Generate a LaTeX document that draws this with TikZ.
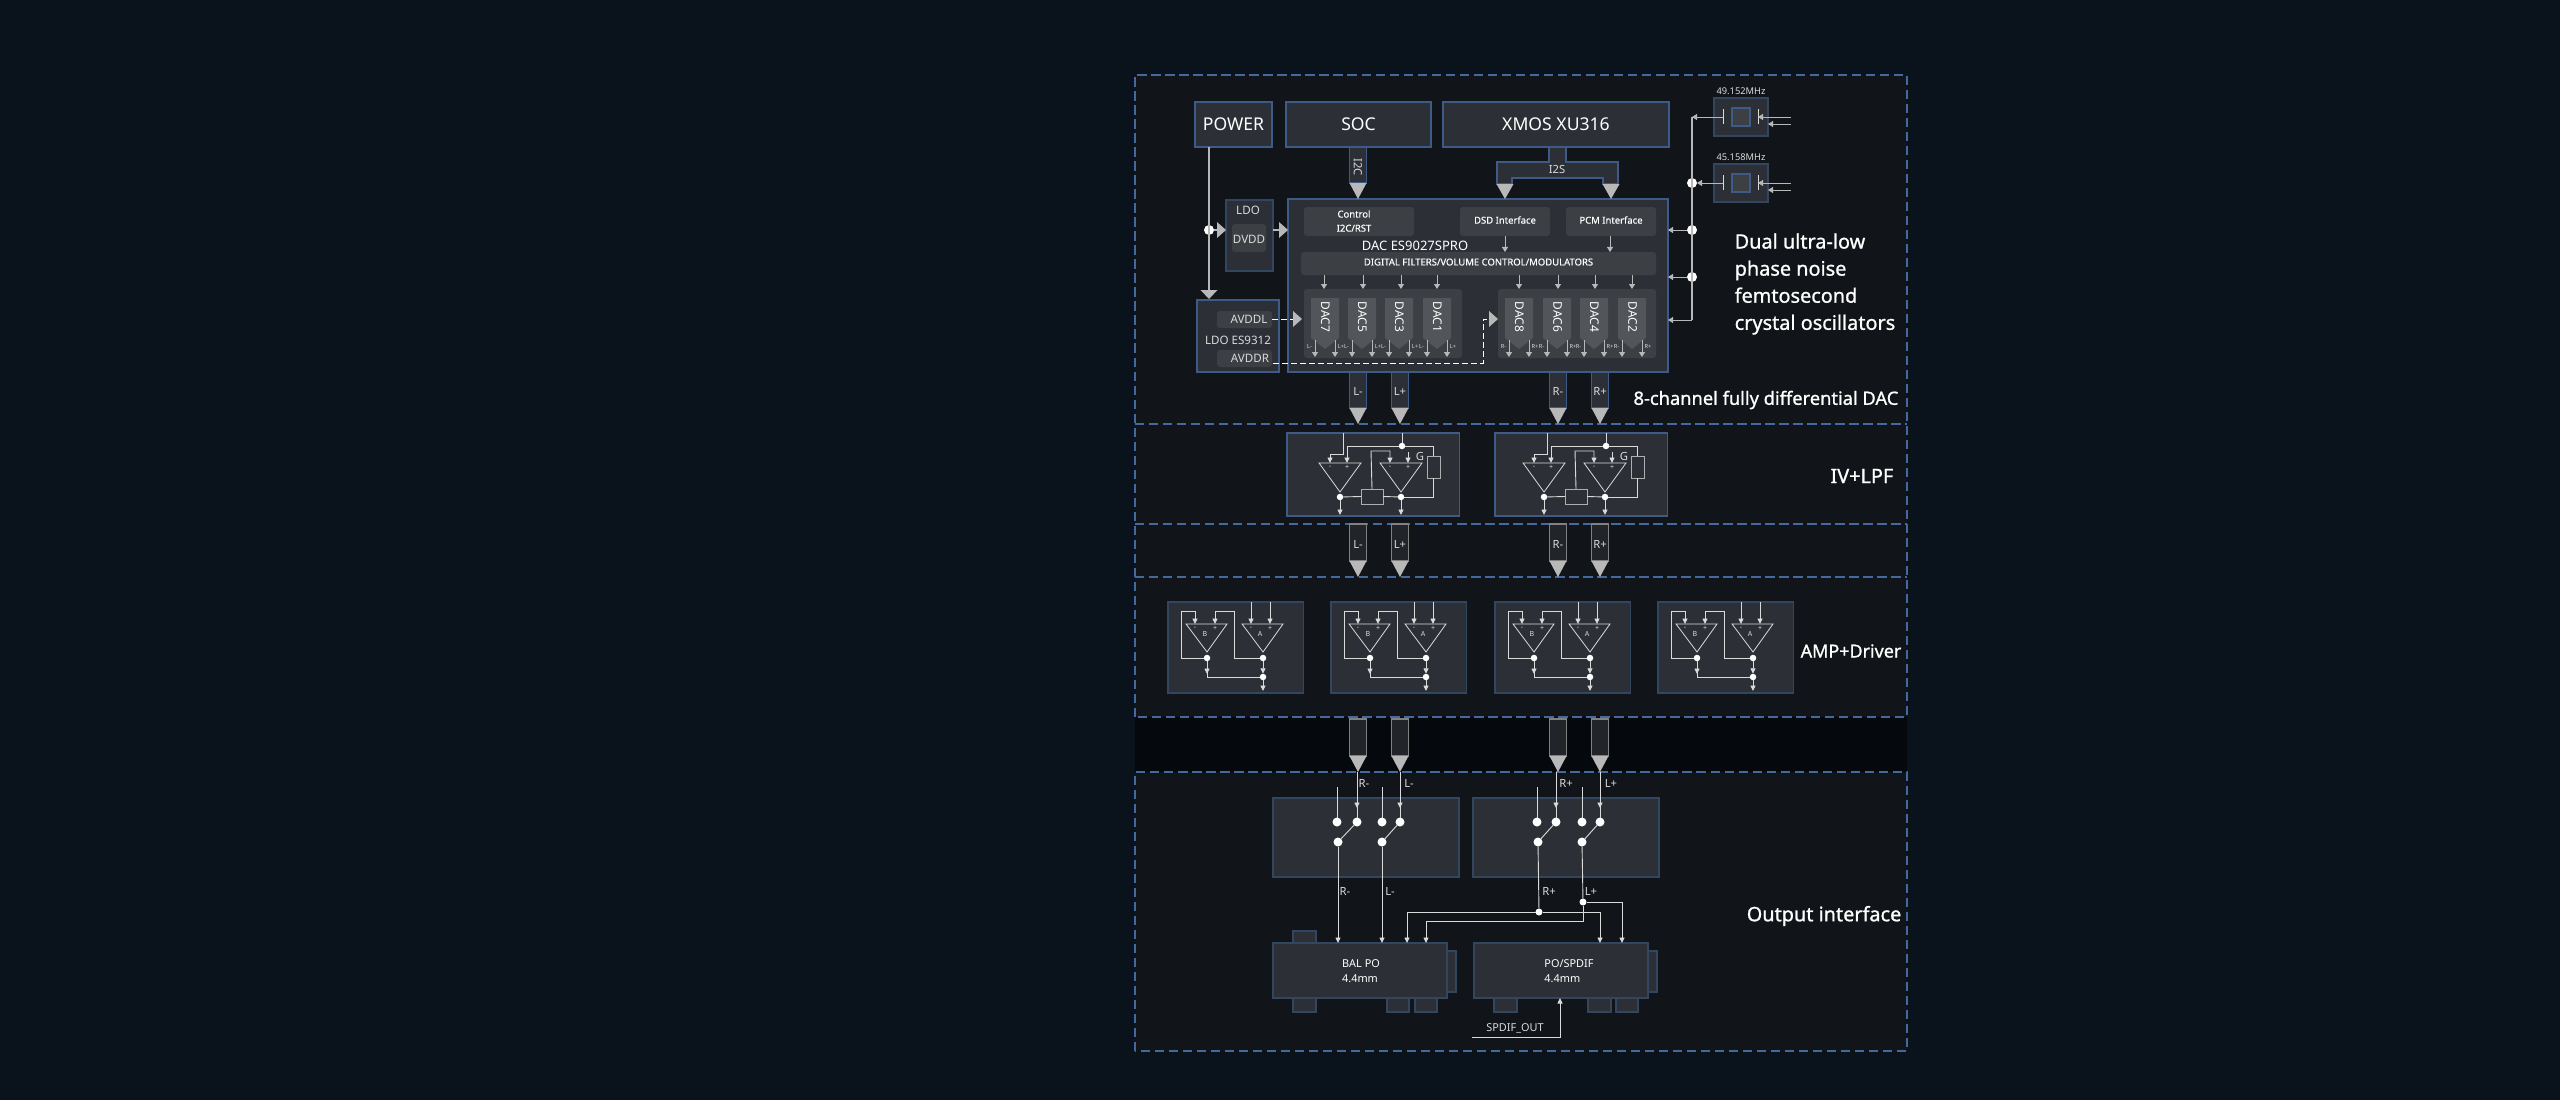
\documentclass[tikz,border=0pt]{standalone}
\usepackage{fontspec}
\setmainfont{Noto Sans}
\setsansfont{Noto Sans}
\newfontfamily\headfont[FakeBold=1]{Noto Sans}
\newfontfamily\pillfont[FakeBold=0.3]{Noto Sans}
\usetikzlibrary{arrows.meta,calc}
\definecolor{Page}{HTML}{0A131C}
\definecolor{Panel}{HTML}{111418}
\definecolor{Band}{HTML}{05080D}
\definecolor{Block}{HTML}{2C2F35}
\definecolor{Pill}{HTML}{3C3F44}
\definecolor{Penta}{HTML}{525559}
\definecolor{Edge}{HTML}{3E5A86}
\definecolor{EdgeDim}{HTML}{33465F}
\definecolor{Dash}{HTML}{44699F}
\definecolor{Tip}{HTML}{B8B8B8}
\definecolor{Wire}{HTML}{DADADA}
\tikzset{
  blkbox/.style={draw=Edge,fill=Block,line width=.012cm,inner sep=0,outer sep=0,text=white,font=\fontsize{5}{6}\selectfont},
  dimbox/.style={blkbox,draw=EdgeDim},
  tab/.style={blkbox,draw=EdgeDim},
  pillbox/.style={fill=Pill,rounded corners=.03cm,inner sep=0,outer sep=0,text=white,text depth=.03cm,font=\pillfont\fontsize{2.7}{4}\selectfont},
  lbl/.style={text=Wire,inner sep=0,font=\fontsize{3.2}{3.8}\selectfont},
  lblmid/.style={text=Wire,inner sep=0,font=\fontsize{3.3}{4}\selectfont},
  lbltiny/.style={text=Wire,inner sep=0,font=\fontsize{1.6}{2}\selectfont},
  lblamp/.style={text=Wire,inner sep=0,font=\fontsize{2}{2.4}\selectfont},
  lblbig/.style={text=white,inner sep=0,align=left,font=\headfont\fontsize{5.65}{7.7}\selectfont},
  dashline/.style={Dash,line width=.016cm,dash pattern=on .093cm off .047cm},
  bus/.style={draw=Edge,fill=Block,line width=.012cm},
  busgrey/.style={draw=Tip!70!black,fill=Block!60!Panel,line width=.012cm},
  wire/.style={Wire,line width=.009cm},
  wirearr/.style={wire,-{Triangle[length=.055cm,width=.05cm]}},
  garr/.style={Tip,line width=.009cm,-{Triangle[length=.05cm,width=.06cm]}},
  dashwire/.style={white,line width=.01cm,dash pattern=on .06cm off .03cm},
  wdot/.style={circle,fill=white,inner sep=0,outer sep=0,minimum size=.1cm},
  mdot/.style={wdot,minimum size=.09cm},
  sdot/.style={wdot,minimum size=.065cm},
  opamp/.style={Wire,line width=.008cm,line join=miter},
  res/.style={draw=Wire!80!black,line width=.009cm,inner sep=0,outer sep=0},
}
% corners in pixels of the reference
\newcommand{\blk}[7][blkbox]{\node[#1,minimum width={((#5)-(#3))*.01cm},minimum height={((#6)-(#4))*.01cm}] (#2) at ({((#3)+(#5))/2},{((#4)+(#6))/2}) {#7};}
\newcommand{\busarrow}[4][bus]{%
  \draw[#1] ($(#2)+(-8.5,0)$) rectangle ($(#3)+(8.5,-16)$);
  \fill[Tip] ($(#3)+(-8.5,-16)$) -- ($(#3)+(8.5,-16)$) -- (#3) -- cycle;
  \node[lbl] at ($(#2)!.38!(#3)$) {#4};}
\newcommand{\sidetip}[1]{\fill[Tip] ($(#1)+(0,-8)$) -- ($(#1)+(0,8)$) -- ($(#1)+(9,0)$) -- cycle;}
\begin{document}
\begin{tikzpicture}[x=.01cm,y=-.01cm]
\useasboundingbox (0,0) rectangle (2560,1100);
\fill[Page] (0,0) rectangle (2560,1100);
\fill[Panel] (1135,75) rectangle (1907,717);
\fill[Band] (1135,717) rectangle (1907,772);
\fill[Panel] (1135,772) rectangle (1907,1051);
% section frames
\draw[dashline] (1135,717) -- (1135,75) -- (1907,75) -- (1907,717) -- cycle;
\draw[dashline] (1135,424) -- (1907,424);
\draw[dashline] (1135,524) -- (1907,524);
\draw[dashline] (1135,577) -- (1907,577);
\draw[dashline] (1135,1051) -- (1135,772) -- (1907,772) -- (1907,1051) -- cycle;
\node[lblbig,anchor=west] (txtdual) at (1734,284) {Dual ultra-low\\phase noise\\femtosecond\\crystal oscillators};
\node[lblbig,anchor=east,font=\headfont\fontsize{5.2}{6}\selectfont] (txtdac) at (1899,400) {8-channel fully differential DAC};
\node[lblbig,anchor=east] (txtiv) at (1894,476) {IV+LPF};
\node[lblbig,anchor=east,font=\headfont\fontsize{5.1}{6}\selectfont] (txtamp) at (1902,651) {AMP+Driver};
\node[lblbig,anchor=east] (txtout) at (1902,916) {Output interface};
% top row
\blk{power}{1195}{102}{1272}{147}{POWER}
\blk{soc}{1286}{102}{1431}{147}{SOC}
\blk{xmos}{1443}{102}{1669}{147}{XMOS XU316}
\blk{dac}{1288}{199}{1668}{372}{}
\node[text=white,inner sep=0,font=\fontsize{3.7}{4.4}\selectfont] (dacname) at (1415,246) {DAC ES9027SPRO};
\coordinate (soctap) at (1358,147); \coordinate (soctip) at (1358,199);
\busarrow{soctap}{soctip}{}
\node[lbl,rotate=-90] (i2c) at (1358,167) {I2C};
\draw[bus] (1549,147) -- (1549,162) -- (1497,162) -- (1497,184) -- (1512,184) -- (1512,178) -- (1603,178) -- (1603,184) -- (1618,184) -- (1618,162) -- (1566,162) -- (1566,147) -- cycle;
\node[lbl] (i2s) at (1557,169) {I2S};
\foreach \x in {1505,1611}{\fill[Tip] ({\x-8.5},184) -- ({\x+8.5},184) -- (\x,199) -- cycle;}
% DAC insides
\blk[pillbox]{ctrl}{1304}{207}{1414}{236}{}
\node[lbl,text=white,align=center,font=\pillfont\fontsize{2.7}{4}\selectfont] (ctrltxt) at (1354,221) {Control\\I2C/RST};
\blk[pillbox]{dsd}{1460}{207}{1550}{236}{DSD Interface}
\blk[pillbox]{pcm}{1566}{207}{1656}{236}{PCM Interface}
\blk[pillbox]{digi}{1301}{252}{1656}{275}{DIGITAL FILTERS/VOLUME CONTROL/MODULATORS}
\blk[pillbox]{dacl}{1304}{289}{1462}{358}{}
\blk[pillbox]{dacr}{1498}{289}{1656}{358}{}
\draw[garr] (dsd.south) -- (dsd.south |- digi.north);
\draw[garr] (1610,236) -- (1610,252);
\foreach \x/\ar/\t/\ch in {1311/1324/7/L,1348/1363/5/L,1385/1401/3/L,1423/1437/1/L,1505/1519/8/R,1543/1558/6/R,1580/1595/4/R,1618/1632/2/R}{
  \fill[Penta] (\x,298) -- ({\x+28},298) -- ({\x+28},338) -- ({\x+14},349) -- (\x,338) -- cycle;
  \node[text=white,inner sep=0,rotate=-90,font=\fontsize{3.4}{4}\selectfont] at ({\x+14.5},317) {DAC\t};
  \draw[garr] (digi.south -| \ar,0) -- (\ar,289);
  \draw[garr] ({\x+4},340) -- ({\x+4},357);
  \draw[garr] ({\x+24},340) -- ({\x+24},357);
  \node[lbltiny] at ({\x-1.5},346) {\ch-};
  \node[lbltiny] at ({\x+30},346) {\ch+};
}
% power
\blk[dimbox]{ldo}{1226}{200}{1273}{271}{}
\node[lblmid] (ldotxt) at (1248,210) {LDO};
\blk[pillbox]{dvdd}{1232}{224}{1266}{252}{}
\node[lblmid] (dvddtxt) at (1249,239) {DVDD};
\blk{es}{1197}{300}{1279}{372}{}
\blk[pillbox]{avddl}{1217}{311}{1272}{328}{}
\blk[pillbox]{avddr}{1217}{350}{1272}{367}{}
\node[lblmid] (avl) at (1249,319) {AVDDL};
\node[lblmid] (esl) at (1238,340) {LDO ES9312};
\node[lblmid] (avr) at (1250,358) {AVDDR};
\node[wdot] (pwrdot) at (1209,230) {};
\coordinate (pwrtip) at (1209,299); \coordinate (ldoin) at (1217,230); \coordinate (dacin) at (1279,230);
\draw[Tip,line width=.013cm] (power.south -| pwrtip) -- ($(pwrtip)+(0,-9)$);
\fill[Tip] ($(pwrtip)+(-8.5,-9)$) -- ($(pwrtip)+(8.5,-9)$) -- (pwrtip) -- cycle;
\draw[Tip,line width=.013cm] (pwrdot) -- (ldoin);
\sidetip{ldoin}
\draw[Tip,line width=.013cm] (ldo.east |- dacin) -- (dacin);
\sidetip{dacin}
\coordinate (tipl) at (1293,319); \coordinate (tipr) at (1489,319);
\draw[dashwire] (avddl.east |- tipl) -- (tipl);
\sidetip{tipl}
\draw[dashwire] (1273,363) -- (1483,363) -- (1483,319) -- (tipr);
\sidetip{tipr}
% oscillators
\foreach \y/\t/\n in {98/49.152MHz/a,164/45.158MHz/b}{
  \blk[dimbox]{osc\n}{1714}{\y}{1768}{\y+38}{}
  \blk[blkbox,fill=Pill]{xt\n}{1732}{\y+10}{1750}{\y+28}{}
  \node[lbl,font=\fontsize{2.65}{3.2}\selectfont] at (1741,\y-7) {\t};
  \draw[Wire,line width=.009cm] (1723,\y+11) -- (1723,\y+26);
  \draw[Wire,line width=.009cm] (1758,\y+11) -- (1758,\y+26);
  \draw[garr] (1791,\y+19) -- (1758,\y+19);
  \draw[garr] (1791,\y+26) -- (1768,\y+26);
}
\node[wdot] (clk1) at (1692,183) {};
\node[wdot] (clk2) at (1692,230) {};
\node[wdot] (clk3) at (1692,277) {};
\draw[Tip,line width=.013cm] (1692,117) -- (1692,320);
\draw[garr] (1723,117) -- (1692,117);
\draw[garr] (1723,183) -- (clk1);
\draw[garr] (clk2) -- (clk2 -| dac.east);
\draw[garr] (clk3) -- (clk3 -| dac.east);
\draw[garr] (1692,320) -- (dac.east |- 0,320);
% buses between the stages
\foreach \n/\x/\t in {lm/1358/L-,lp/1400/L+,rm/1558/R-,rp/1600/R+}{
  \coordinate (dq\n) at (\x,372); \coordinate (ivi\n) at (\x,424);
  \coordinate (ivo\n) at (\x,524); \coordinate (ampi\n) at (\x,577);
  \coordinate (ampo\n) at (\x,719); \coordinate (swi\n) at (\x,772);
  \busarrow{dq\n}{ivi\n}{\t}
  \busarrow[busgrey]{ivo\n}{ampi\n}{\t}
  \busarrow[busgrey]{ampo\n}{swi\n}{}
}
% IV+LPF stage
\foreach \sx/\nm/\bx in {0/l/1287,204/r/1495}{
  \blk{iv\nm}{\bx}{433}{\bx+172.5}{516}{}
  \begin{scope}[xshift={\sx*.01cm},name prefix=iv\nm-]
    \draw[opamp] (1319,463) -- (1361,463) -- (1340,492) -- cycle;
    \draw[opamp] (1380,463) -- (1422,463) -- (1401,492) -- cycle;
    \coordinate (in1) at (1343,433); \coordinate (in2) at (1402,433);
    \coordinate (na) at (1330,463); \coordinate (pa) at (1347,463);
    \coordinate (nb) at (1390,463); \coordinate (pb) at (1408,463);
    \node[sdot] (oa) at (1340,497) {};
    \node[sdot] (ob) at (1401,497) {};
    \node[sdot] (fork) at (1402,446) {};
    \blk[res]{rf}{1361}{489}{1383}{504}{}
    \blk[res]{rg}{1427}{456}{1440}{478}{}
    \draw[wirearr] (in1) -- (1343,454) -| (na);
    \draw[wire] (in2) -- (fork);
    \draw[wirearr] (fork) -| (pa);
    \draw[wire] (fork) -| (rg.north);
    \draw[wire] (rg.south) |- (ob);
    \draw[wire] (oa) -- (rf.west);
    \draw[wire] (rf.east) -- (ob);
    \draw[wirearr] (rf.north) -- (1371,451) -| (nb);
    \draw[wirearr] (1408,452) -- (pb);
    \draw[wirearr] (oa) -- (1340,515);
    \draw[wirearr] (ob) -- (1401,515);
    \foreach \c/\s in {na/-,pa/+,nb/-,pb/+}{\node[lblamp] at ($(\c)+(0,4.5)$) {\s};}
    \node[lbl] at (1420,456) {G};
  \end{scope}
}
% amplifier stage
\foreach \sx/\nm in {0/a,163/b,327/c,490/d}{
  \begin{scope}[xshift={\sx*.01cm},name prefix=amp\nm-]
    \blk[dimbox]{box}{1168}{602}{1303.5}{693}{}
    \draw[opamp] (1186,624) -- (1227,624) -- (1207,652) -- cycle;
    \draw[opamp] (1242,624) -- (1283,624) -- (1263,652) -- cycle;
    \coordinate (nb) at (1195,624); \coordinate (pb) at (1215,624);
    \coordinate (na) at (1251,624); \coordinate (pa) at (1270,624);
    \node[sdot] (ob) at (1207,658) {};
    \node[sdot] (oa) at (1263,658) {};
    \node[sdot] (mix) at (1263,677) {};
    \draw[wirearr] (ob) -| (1181,611) -| (nb);
    \draw[wirearr] (oa) -| (1234,611) -| (pb);
    \draw[wirearr] (box.north -| na) -- (na);
    \draw[wirearr] (box.north -| pa) -- (pa);
    \draw[wirearr] (ob) -- (1207,674);
    \draw[wire] (1207,672) |- (mix);
    \draw[wirearr] (oa) -- (mix);
    \draw[wirearr] (mix) -- (1263,691);
    \foreach \c/\s in {nb/-,pb/+,na/-,pa/+}{\node[lblamp] at ($(\c)+(0,4)$) {\s};}
    \node[lblamp] at (1205,634) {B};
    \node[lblamp] at (1260,634) {A};
  \end{scope}
}
% output switches
\blk[dimbox]{swl}{1273}{798}{1459}{877}{}
\blk[dimbox]{swr}{1473}{798}{1659}{877}{}
\foreach \nm/\s/\ar/\b/\tin/\lin/\lout in {rm/1337/1357/1338/R-/1364/1345,lm/1382/1400/1382/L-/1409/1390,rp/1537/1556/1538/R+/1566/1549,lp/1582/1600/1582/L+/1611/1591}{
  \node[mdot] (s\nm) at (\s,822) {};
  \node[mdot] (d\nm) at (\ar,822) {};
  \node[mdot] (c\nm) at (\b,842) {};
  \coordinate (swt\nm) at (\ar,772);
  \draw[wire] (s\nm) -- (\s,787);
  \draw[wirearr] (swt\nm) -- (\ar,808);
  \draw[wire] (\ar,806) -- (d\nm);
  \draw[wire] (c\nm) -- (d\nm);
  \node[lbl] at (\lin,783) {\tin};
  \node[lbl] at (\lout,891) {\tin};
}
% output jacks
\blk[tab]{baltop}{1293}{931}{1316}{943}{}
\blk[tab]{balside}{1447}{951}{1456}{992}{}
\blk[tab]{balb1}{1293}{998}{1316}{1012}{}
\blk[tab]{balb2}{1387}{998}{1409}{1012}{}
\blk[tab]{balb3}{1415}{998}{1437}{1012}{}
\blk[tab]{poside}{1648}{951}{1657}{992}{}
\blk[tab]{pob1}{1494}{998}{1517}{1012}{}
\blk[tab]{pob2}{1588}{998}{1611}{1012}{}
\blk[tab]{pob3}{1616}{998}{1638}{1012}{}
\blk[dimbox]{bal}{1273}{943}{1447}{998}{}
\blk[dimbox]{po}{1474}{943}{1648}{998}{}
\node[lbl,text=white,align=left,font=\fontsize{3.1}{4.3}\selectfont] (baltxt) at (1361,971) {BAL PO\\4.4mm};
\node[lbl,text=white,align=left,font=\fontsize{3.1}{4.3}\selectfont] (potxt) at (1569,971) {PO/SPDIF\\4.4mm};
\node[sdot,minimum size=.07cm] (rjoin) at (1539,912) {};
\node[sdot,minimum size=.07cm] (ljoin) at (1583,902) {};
\draw[wirearr] (crm) -- (bal.north -| 1338,0);
\draw[wirearr] (clm) -- (bal.north -| 1382,0);
\draw[wire] (crp) -- (rjoin);
\draw[wire] (clp) -- (ljoin);
\draw[wirearr] (rjoin) -| (bal.north -| 1407,0);
\draw[wirearr] (rjoin) -| (po.north -| 1600,0);
\draw[wirearr] (ljoin) -| (po.north -| 1622,0);
\draw[wirearr] (ljoin) -- (1583,921) -| (bal.north -| 1426,0);
\coordinate (spdif) at (1472,1037);
\draw[wirearr] (spdif) -| (po.south -| 1560,0);
\node[lbl,font=\fontsize{3.1}{3.7}\selectfont] (spdiftxt) at (1515,1028) {SPDIF\_OUT};
\end{tikzpicture}
\end{document}
